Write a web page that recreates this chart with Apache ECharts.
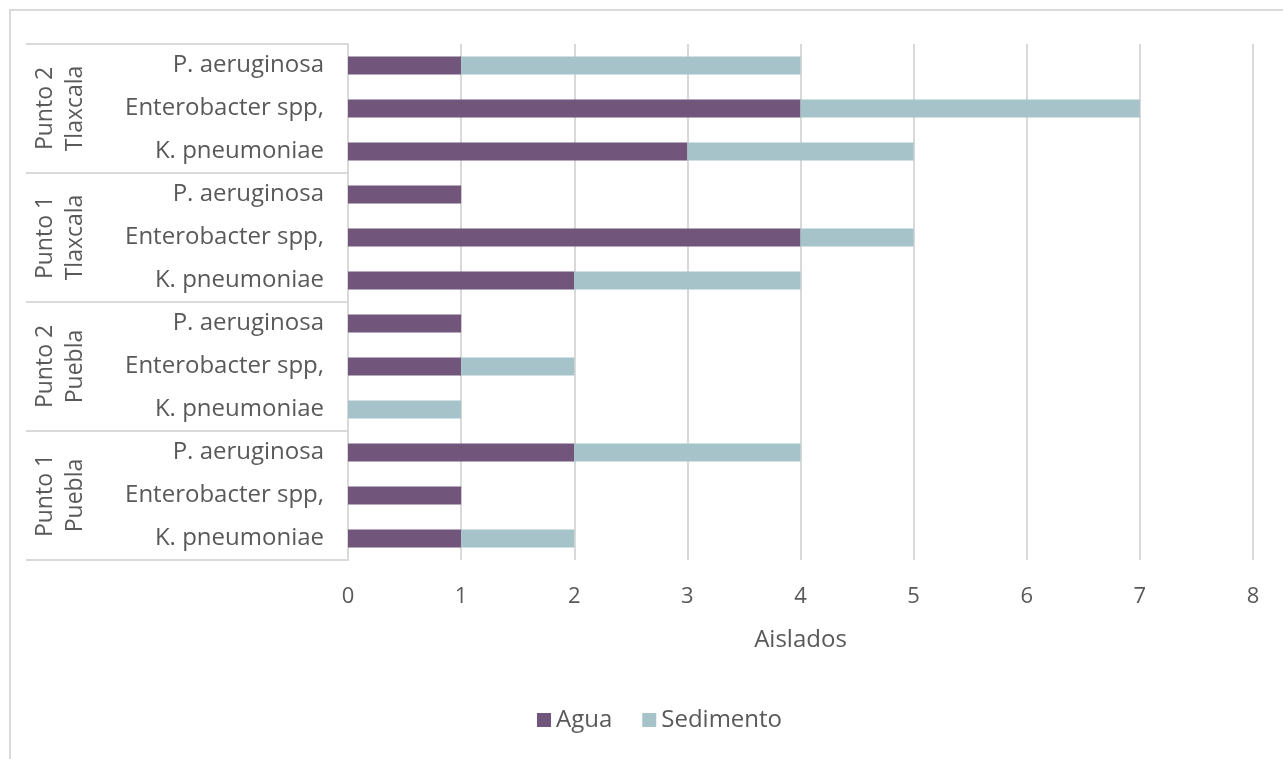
<!DOCTYPE html>
<html>
<head>
<meta charset="utf-8">
<script src="https://cdn.jsdelivr.net/npm/echarts@6/dist/echarts.min.js"></script>
<style>html,body{margin:0;padding:0;background:#fff;}#c{width:1283px;height:759px;}</style>
</head>
<body>
<div id="c"></div>
<script>
// categories bottom to top
const species = ['K. pneumoniae', 'Enterobacter spp,', 'P. aeruginosa',
                 'K. pneumoniae', 'Enterobacter spp,', 'P. aeruginosa',
                 'K. pneumoniae', 'Enterobacter spp,', 'P. aeruginosa',
                 'K. pneumoniae', 'Enterobacter spp,', 'P. aeruginosa'];
const groups = ['Punto 1\nPuebla', 'Punto 2\nPuebla', 'Punto 1\nTlaxcala', 'Punto 2\nTlaxcala'];
const agua      = [1, 1, 2,  0, 1, 1,  2, 4, 1,  3, 4, 1];
const sedimento = [1, 0, 2,  1, 1, 0,  2, 1, 0,  2, 3, 3];
const xTicks = { min: 0, max: 8, interval: 1 };

const txt = '#595959';
const grid = '#D9D9D9';
const font = 'Open Sans';

const chart = echarts.init(document.getElementById('c'));
chart.setOption({
  animation: false,
  textStyle: { fontFamily: font },
  graphic: [{
    type: 'rect', shape: { x: 10, y: 10, width: 1300, height: 800 },
    style: { fill: 'none', stroke: grid, lineWidth: 2 }, silent: true
  }],
  grid: { left: 348, right: 30, top: 44, bottom: 199 },
  legend: {
    bottom: 22, left: 532, itemWidth: 14, itemHeight: 14, itemGap: 30,
    icon: 'rect',
    textStyle: { color: txt, fontSize: 24, fontFamily: font }
  },
  xAxis: {
    type: 'value', min: xTicks.min, max: xTicks.max, interval: xTicks.interval,
    name: 'Aislados', nameLocation: 'middle', nameGap: 68,
    nameTextStyle: { color: txt, fontSize: 24, fontFamily: font },
    axisLine: { show: false }, axisTick: { show: false },
    axisLabel: { color: txt, fontSize: 22, margin: 26, fontFamily: font },
    splitLine: { lineStyle: { color: grid, width: 2 } }
  },
  yAxis: [{
    type: 'category', data: species, position: 'left',
    axisLine: { show: true, lineStyle: { color: grid, width: 2 } },
    axisTick: { show: false },
    axisLabel: { color: txt, fontSize: 24, margin: 24, fontFamily: font }
  }, {
    type: 'category', data: groups, position: 'left',
    axisLine: { show: false },
    axisTick: { show: true, length: 322, lineStyle: { color: grid, width: 2 } },
    axisLabel: { color: txt, fontSize: 23, rotate: 90, margin: 258, lineHeight: 30, fontFamily: font }
  }],
  series: [{
    name: 'Agua', type: 'bar', stack: 's', yAxisIndex: 0, data: agua,
    barWidth: 18, itemStyle: { color: '#71557A' }
  }, {
    name: 'Sedimento', type: 'bar', stack: 's', yAxisIndex: 0, data: sedimento,
    barWidth: 18, itemStyle: { color: '#A6C3CA' }
  }]
});
</script>
</body>
</html>
